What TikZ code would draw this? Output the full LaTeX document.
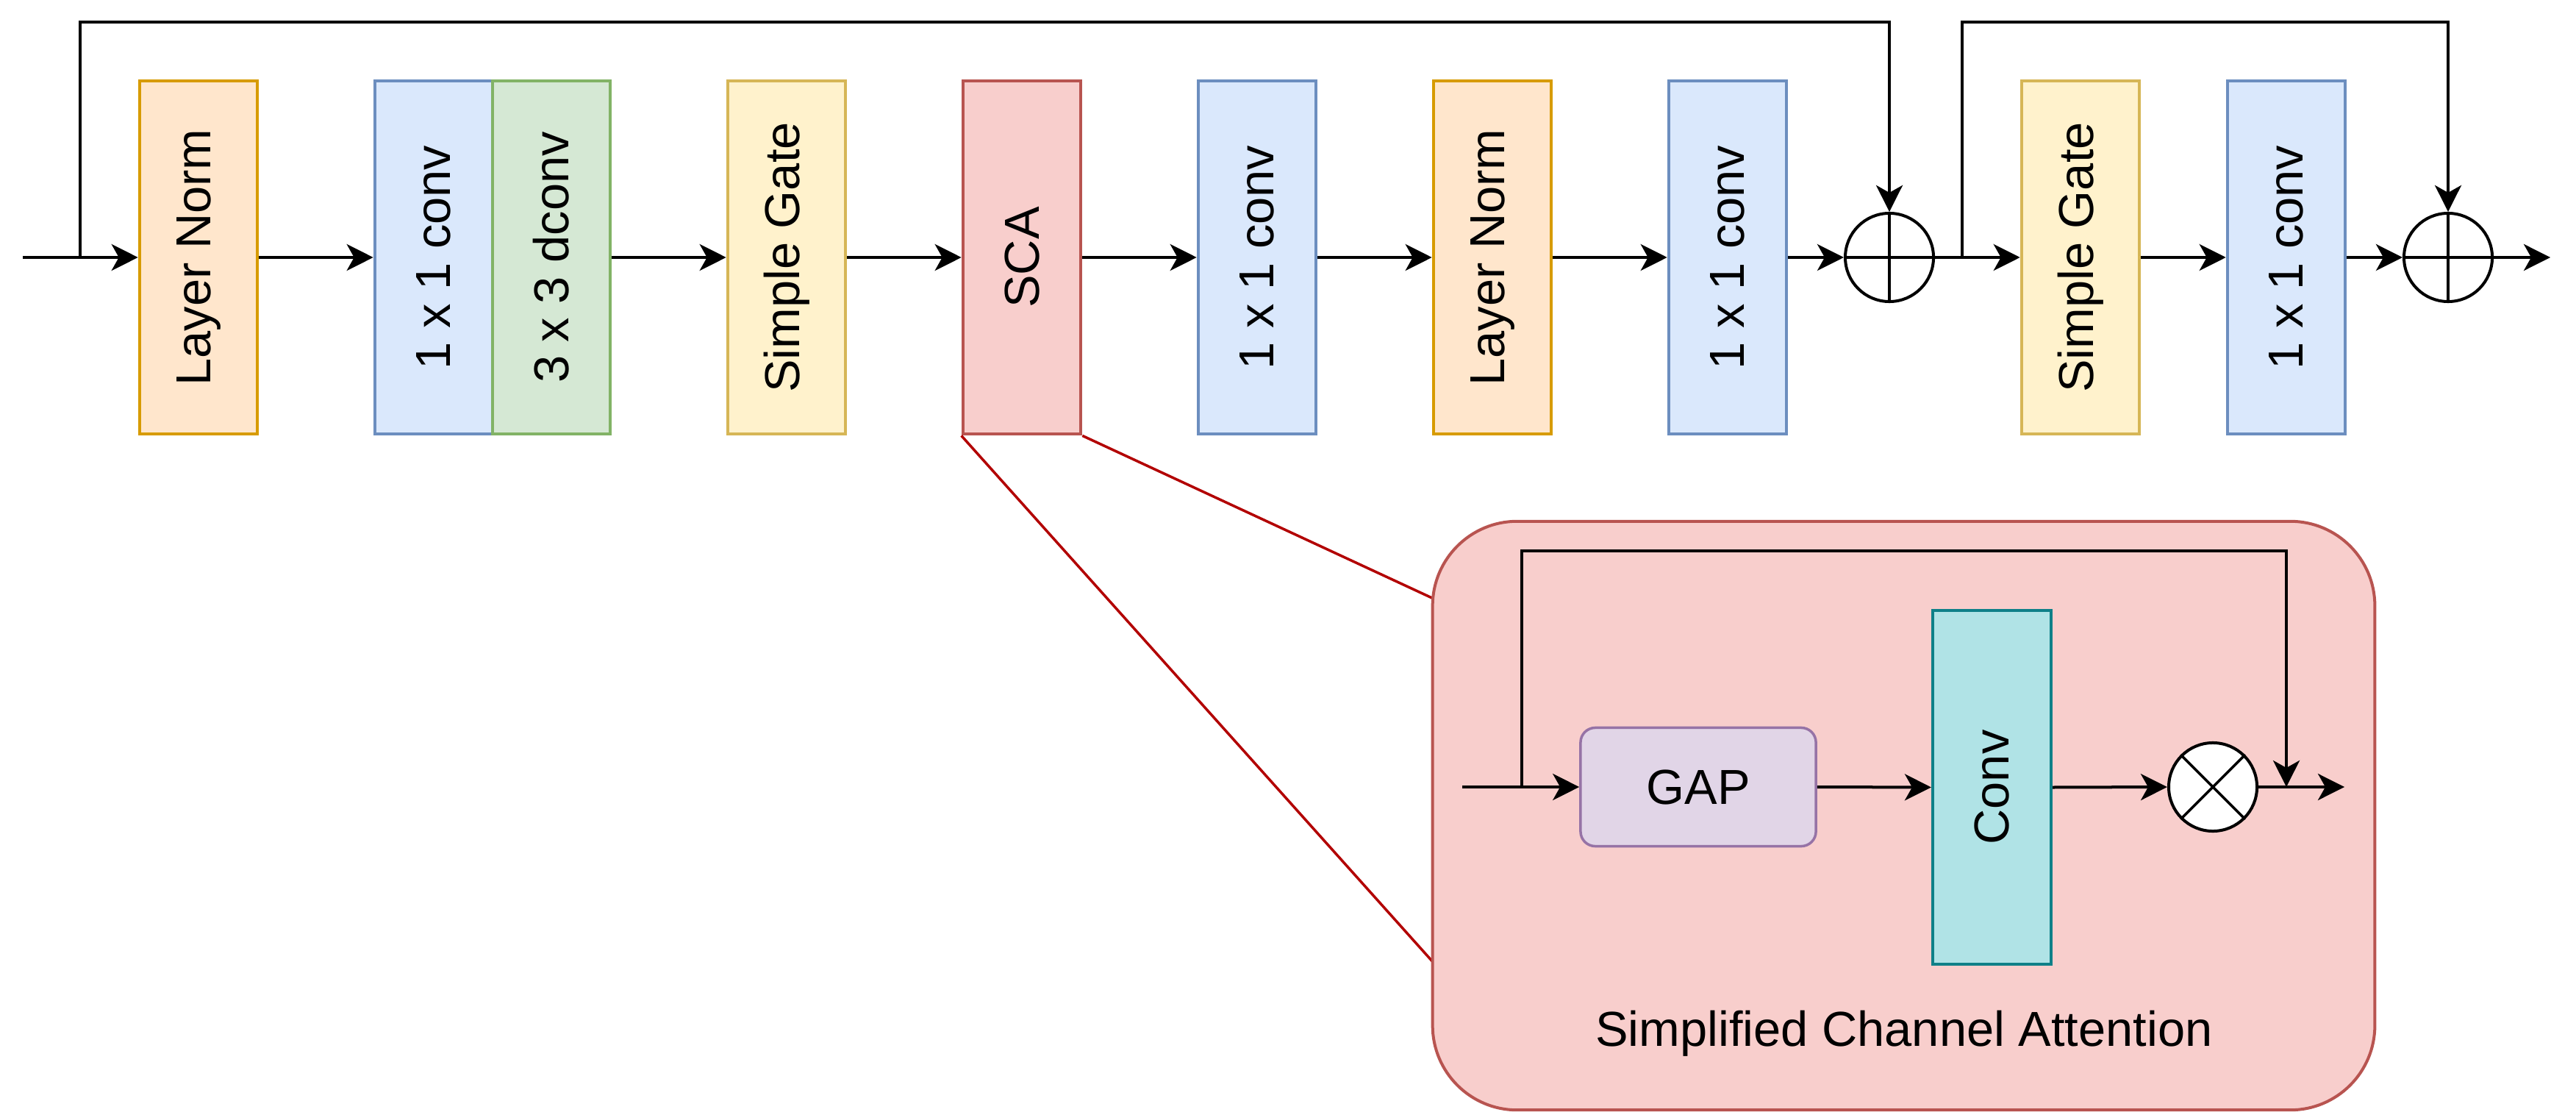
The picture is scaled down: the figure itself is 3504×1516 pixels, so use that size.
\documentclass[tikz,border=0pt]{standalone}
\usepackage{fontspec}
\setmainfont{Liberation Sans}
\usetikzlibrary{arrows.meta}
\definecolor{lnfill}{HTML}{FFE6CC}\definecolor{lndraw}{HTML}{D79B00}
\definecolor{cvfill}{HTML}{DAE8FC}\definecolor{cvdraw}{HTML}{6C8EBF}
\definecolor{dfill}{HTML}{D5E8D4}\definecolor{ddraw}{HTML}{82B366}
\definecolor{sgfill}{HTML}{FFF2CC}\definecolor{sgdraw}{HTML}{D6B656}
\definecolor{scafill}{HTML}{F8CECC}\definecolor{scadraw}{HTML}{B85450}
\definecolor{gapfill}{HTML}{E1D5E7}\definecolor{gapdraw}{HTML}{9673A6}
\definecolor{cfill}{HTML}{B0E3E6}\definecolor{cdraw}{HTML}{0E8088}
\definecolor{zoomred}{HTML}{B20000}
\begin{document}
\begin{tikzpicture}[x=0.01cm,y=-0.01cm,
  every node/.style={font=\fontsize{19pt}{22pt}\selectfont, inner sep=0pt},
  blk/.style={draw, line width=0.045cm, minimum width=1.6cm, minimum height=4.8cm},
  lnbox/.style={blk, fill=lnfill, draw=lndraw},
  cvbox/.style={blk, fill=cvfill, draw=cvdraw},
  dbox/.style={blk, fill=dfill, draw=ddraw},
  sgbox/.style={blk, fill=sgfill, draw=sgdraw},
  scabox/.style={blk, fill=scafill, draw=scadraw},
  flow/.style={line width=0.04cm, -{Stealth[length=0.36cm,width=0.36cm,inset=0.1cm]}},
  wire/.style={line width=0.035cm},
  sum/.style={circle, draw, fill=white, line width=0.04cm, minimum size=1.2cm},
  zoomline/.style={draw=zoomred, line width=0.035cm},
]
\useasboundingbox (0,0) rectangle (3504,1516);

% main chain
\node[lnbox] (ln1) at (270,350) {\rotatebox{90}{Layer Norm}};
\node[cvbox] (c1) at (590,350) {\rotatebox{90}{1 x 1 conv}};
\node[dbox] (d1) at (750,350) {\rotatebox{90}{3 x 3 dconv}};
\node[sgbox] (sg1) at (1070,350) {\rotatebox{90}{Simple Gate}};
\node[scabox] (sca) at (1390,350) {\rotatebox{90}{SCA}};
\node[cvbox] (c2) at (1710,350) {\rotatebox{90}{1 x 1 conv}};
\node[lnbox] (ln2) at (2030,350) {\rotatebox{90}{Layer Norm}};
\node[cvbox] (c3) at (2350,350) {\rotatebox{90}{1 x 1 conv}};
\node[sum] (p1) at (2570,350) {};
\node[sgbox] (sg2) at (2830,350) {\rotatebox{90}{Simple Gate}};
\node[cvbox] (c4) at (3110,350) {\rotatebox{90}{1 x 1 conv}};
\node[sum] (p2) at (3330,350) {};
\draw[wire] (p1.north) -- (p1.south) (p1.west) -- (p1.east);
\draw[wire] (p2.north) -- (p2.south) (p2.west) -- (p2.east);

\coordinate (in) at (31,350);
\coordinate (out) at (3469,350);
\coordinate (b1) at (109,350);
\coordinate (b2) at (2669,350);
\coordinate (top1) at (109,30);
\coordinate (top2) at (2669,30);

\draw[flow] (in) -- (ln1.west);
\draw[flow] (ln1.east) -- (c1.west);
\draw[flow] (d1.east) -- (sg1.west);
\draw[flow] (sg1.east) -- (sca.west);
\draw[flow] (sca.east) -- (c2.west);
\draw[flow] (c2.east) -- (ln2.west);
\draw[flow] (ln2.east) -- (c3.west);
\draw[flow] (c3.east) -- (p1.west);
\draw[flow] (p1.east) -- (sg2.west);
\draw[flow] (sg2.east) -- (c4.west);
\draw[flow] (c4.east) -- (p2.west);
\draw[flow] (p2.east) -- (out);
\draw[flow] (b1) -- (top1) -| (p1.north);
\draw[flow] (b2) -- (top2) -| (p2.north);

% zoom lines
\coordinate (z1) at (1950,814);
\coordinate (z2) at (1950,1309);
\draw[zoomline] (sca.south east) -- (z1);
\draw[zoomline] (sca.south west) -- (z2);

% SCA detail
\node[draw=scadraw, fill=scafill, line width=0.04cm, rounded corners=1.15cm,
      minimum width=12.81cm, minimum height=8cm] (big) at (2589.5,1109) {};
\node[draw=gapdraw, fill=gapfill, line width=0.035cm, rounded corners=0.2cm,
      minimum width=3.2cm, minimum height=1.61cm] (gap) at (2310,1070) {GAP};
\node[draw=cdraw, fill=cfill, line width=0.04cm,
      minimum width=1.61cm, minimum height=4.81cm] (conv) at (2709.5,1070.5) {\rotatebox{90}{Conv}};
\node[sum] (m) at (3010,1070) {};
\draw[wire] (m.north west) -- (m.south east) (m.north east) -- (m.south west);

\coordinate (sin) at (1989,1070);
\coordinate (sout) at (3189,1070);
\coordinate (sb) at (2070,1070);
\coordinate (sk) at (3110,1070);
\coordinate (top3) at (2070,749);

\draw[flow] (sin) -- (gap.west);
\draw[flow] (gap.east) -- (conv.west);
\draw[flow] (conv.east) -- (m.west);
\draw[flow] (m.east) -- (sout);
\draw[flow] (sb) -- (top3) -| (sk);

\node (cap) at (2590,1405) {Simplified Channel Attention};
\end{tikzpicture}
\end{document}
